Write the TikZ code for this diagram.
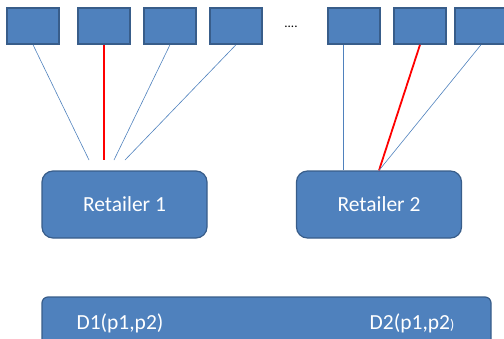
\documentclass[tikz,border=0pt]{standalone}
\usepackage{fontspec}
\setmainfont{Carlito}
\usetikzlibrary{calc}

\definecolor{boxblue}{HTML}{4F81BD}
\definecolor{boxedge}{HTML}{385D8A}

\tikzset{
  shop/.style={draw=boxedge, fill=boxblue, line width=1.5pt,
    minimum width=52pt, minimum height=36pt, inner sep=0pt},
  retailer/.style={draw=boxedge, fill=boxblue, line width=1.2pt, rounded corners=11pt,
    minimum width=165pt, minimum height=67pt, text=white, font=\fontsize{21.5}{23}\selectfont},
  market/.style={draw=boxedge, fill=boxblue, line width=1.2pt, rounded corners=6pt,
    minimum width=449pt, minimum height=56pt},
  demand/.style={text=white, font=\fontsize{21.5}{23}\selectfont, inner sep=0pt},
  link/.style={boxblue, line width=0.6pt},
  chosen/.style={red, line width=1.8pt},
}

\begin{document}
\begin{tikzpicture}[x=1pt, y=-1pt]
    \clip (0,0) rectangle (504,338);
    % consumers
    \node[shop] (s1) at (33,26)  {};
    \node[shop] (s2) at (104,26) {};
    \node[shop] (s3) at (170,26) {};
    \node[shop] (s4) at (236,26) {};
    \node[font=\fontsize{13}{14}\selectfont] (dots) at (291,27) {....};
    \node[shop] (s5) at (354,26) {};
    \node[shop] (s6) at (420,26) {};
    \node[shop] (s7) at (481,26) {};
    % retailers
    \node[retailer] (r1) at (124.5,204.5) {Retailer 1};
    \node[retailer] (r2) at (379,204.5)   {Retailer 2};
    \node[market] (m) at (266.5,325) {};
    \node[demand] (d1) at (120,323) {D1(p1,p2)};
    \node[demand] (d2) at (412,323) {D2(p1,p2{\fontsize{14}{15}\selectfont)}};
    % free ends above retailer 1
    \coordinate (e1) at (89,160);
    \coordinate (e2) at (104,160);
    \coordinate (e3) at (114,160);
    \coordinate (e4) at (125,160);
    \coordinate (f5) at ($(r2.north)+(-36,0)$);
    \coordinate (f6) at (r2.north);
    \draw[link] (s1.south) -- (e1);
    \draw[chosen] (s2.south) -- (e2);
    \draw[link] (s3.south) -- (e3);
    \draw[link] (s4.south) -- (e4);
    \draw[link, line width=0.9pt] (s5.south -| f5) -- (f5);
    \draw[chosen] (s6.south) -- (f6);
    \draw[link] (s7.south) -- (f6);
\end{tikzpicture}
\end{document}
